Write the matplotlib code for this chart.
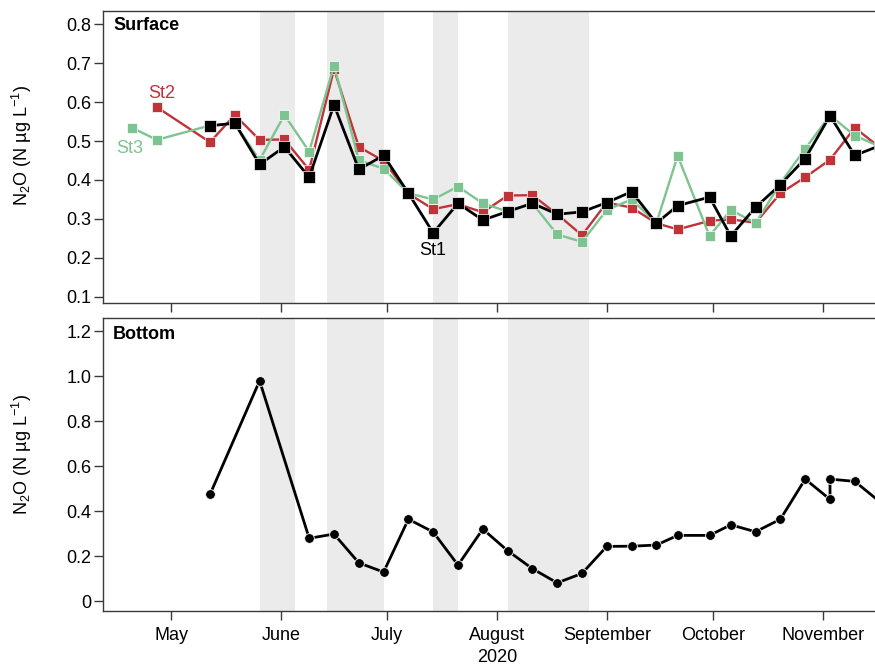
import numpy as np
import matplotlib
matplotlib.use('Agg')
import matplotlib.pyplot as plt
import matplotlib.dates as mdates

plt.rcParams['font.family'] = ['Liberation Sans', 'DejaVu Sans']
plt.rcParams['mathtext.fontset'] = 'custom'
plt.rcParams['mathtext.rm'] = 'Liberation Sans'
plt.rcParams['mathtext.it'] = 'Liberation Sans:italic'

# weekly sampling dates (surface)
weeks = ['2020-05-12', '2020-05-19', '2020-05-26', '2020-06-02', '2020-06-09',
         '2020-06-16', '2020-06-23', '2020-06-30', '2020-07-07', '2020-07-14',
         '2020-07-21', '2020-07-28', '2020-08-04', '2020-08-11', '2020-08-18',
         '2020-08-25', '2020-09-01', '2020-09-08', '2020-09-15', '2020-09-21',
         '2020-09-30', '2020-10-06', '2020-10-13', '2020-10-20', '2020-10-27',
         '2020-11-03', '2020-11-10', '2020-11-17']
st1_dates = weeks
st2_dates = ['2020-04-27'] + weeks
st3_dates = ['2020-04-20', '2020-04-27'] + weeks

st1 = [0.539, 0.546, 0.440, 0.485, 0.407, 0.593, 0.427, 0.463, 0.366, 0.264,
       0.340, 0.297, 0.319, 0.340, 0.312, 0.318, 0.342, 0.370, 0.289, 0.334,
       0.356, 0.256, 0.330, 0.388, 0.455, 0.565, 0.463, 0.488]
st2 = [0.587, 0.497, 0.567, 0.503, 0.504, 0.426, 0.685, 0.485, 0.449, 0.365,
       0.325, 0.338, 0.317, 0.360, 0.361, 0.312, 0.258, 0.342, 0.329, 0.289,
       0.273, 0.295, 0.299, 0.290, 0.366, 0.407, 0.452, 0.534, 0.484]
st3 = [0.534, 0.503, 0.540, 0.545, 0.451, 0.567, 0.473, 0.694, 0.451, 0.429,
       0.366, 0.350, 0.383, 0.340, 0.319, 0.340, 0.260, 0.241, 0.323, 0.350,
       0.289, 0.462, 0.256, 0.323, 0.289, 0.392, 0.480, 0.566, 0.514, 0.486]

# bottom water
bottom_dates = ['2020-05-12', '2020-05-26', '2020-06-09', '2020-06-16', '2020-06-23',
                '2020-06-30', '2020-07-07', '2020-07-14', '2020-07-21', '2020-07-28',
                '2020-08-04', '2020-08-11', '2020-08-18', '2020-08-25', '2020-09-01',
                '2020-09-08', '2020-09-15', '2020-09-21', '2020-09-30', '2020-10-06',
                '2020-10-13', '2020-10-20', '2020-10-27', '2020-11-03', '2020-11-03',
                '2020-11-10', '2020-11-17']
bottom = [0.474, 0.979, 0.279, 0.298, 0.170, 0.129, 0.364, 0.307, 0.160, 0.320,
          0.224, 0.144, 0.081, 0.123, 0.243, 0.244, 0.249, 0.292, 0.292, 0.339,
          0.308, 0.364, 0.542, 0.452, 0.542, 0.532, 0.442]

# shaded periods
periods = [('2020-05-26', '2020-06-05'), ('2020-06-14', '2020-06-30'),
           ('2020-07-14', '2020-07-21'), ('2020-08-04', '2020-08-27')]

months = ['2020-05-01', '2020-06-01', '2020-07-01', '2020-08-01',
          '2020-09-01', '2020-10-01', '2020-11-01']
month_labels = ['May', 'June', 'July', 'August\n2020', 'September', 'October', 'November']

top_ticks = [0.1, 0.2, 0.3, 0.4, 0.5, 0.6, 0.7, 0.8]
bot_ticks = [0, 0.2, 0.4, 0.6, 0.8, 1.0, 1.2]
bot_tick_labels = ['0', '0.2', '0.4', '0.6', '0.8', '1.0', '1.2']

d = lambda lst: np.array(lst, dtype='datetime64[D]')

RED = '#bf3339'
GREEN = '#7dc490'
SPINE = '#3a3a3a'
FS = 13

fig = plt.figure(figsize=(8.75, 6.69), dpi=100)
ax1 = fig.add_axes([103 / 875, 1 - 303 / 669, 1 - 103 / 875, (303 - 11) / 669])
ax2 = fig.add_axes([103 / 875, 1 - 611 / 669, 1 - 103 / 875, (611 - 318) / 669])

x0 = mdates.date2num(np.datetime64('2020-05-01'))
xlim = (x0 - 19.2, x0 + 198.7)

for ax in (ax1, ax2):
    for a, b in periods:
        ax.axvspan(np.datetime64(a), np.datetime64(b), color='#ebebeb', lw=0, zorder=0)
    ax.set_xlim(xlim)
    ax.spines['right'].set_visible(False)
    for s in ('left', 'top', 'bottom'):
        ax.spines[s].set_color(SPINE)
        ax.spines[s].set_linewidth(1.0)
    ax.set_xticks(d(months))
    ax.tick_params(direction='out', length=6.5, width=1.0, color=SPINE,
                   labelsize=FS, pad=2)
    ax.set_ylabel('N$_2$O (N µg L$^{-1}$)', fontsize=FS)

# surface panel
ax1.plot(d(st2_dates), st2, '-s', color=RED, lw=1.7, ms=6.5, mec='white', mew=0.5, zorder=3)
ax1.plot(d(st3_dates), st3, '-s', color=GREEN, lw=1.7, ms=6.5, mec='white', mew=0.5, zorder=3)
ax1.plot(d(st1_dates), st1, '-s', color='black', lw=2.0, ms=8.5, mec='white', mew=0.5, zorder=4)
ax1.set_ylim(0.084, 0.834)
ax1.set_yticks(top_ticks)
ax1.set_xticklabels([])
ax1.text(0.013, 0.949, 'Surface', transform=ax1.transAxes, fontsize=FS,
         fontweight='bold', va='center', ha='left')
ax1.text(x0 - 2.5, 0.623, 'St2', color=RED, fontsize=FS, ha='center', va='center')
ax1.text(x0 - 11.6, 0.480, 'St3', color=GREEN, fontsize=FS, ha='center', va='center')
ax1.text(np.datetime64('2020-07-14'), 0.220, 'St1', color='black', fontsize=FS,
         ha='center', va='center')

# bottom panel
ax2.plot(d(bottom_dates), bottom, '-o', color='black', lw=2.0, ms=7, mec='white',
         mew=0.6, zorder=4)
ax2.set_ylim(-0.044, 1.258)
ax2.set_yticks(bot_ticks)
ax2.set_yticklabels(bot_tick_labels)
ax2.set_xticklabels(month_labels)
for lbl in ax2.get_xticklabels():
    lbl.set_linespacing(1.4)
ax2.tick_params(axis='x', pad=5)
ax2.text(0.013, 0.945, 'Bottom', transform=ax2.transAxes, fontsize=FS,
         fontweight='bold', va='center', ha='left')

ax1.yaxis.set_label_coords(-0.09, 0.538)
ax2.yaxis.set_label_coords(-0.09, 0.535)

fig.savefig('out.png', dpi=100)
